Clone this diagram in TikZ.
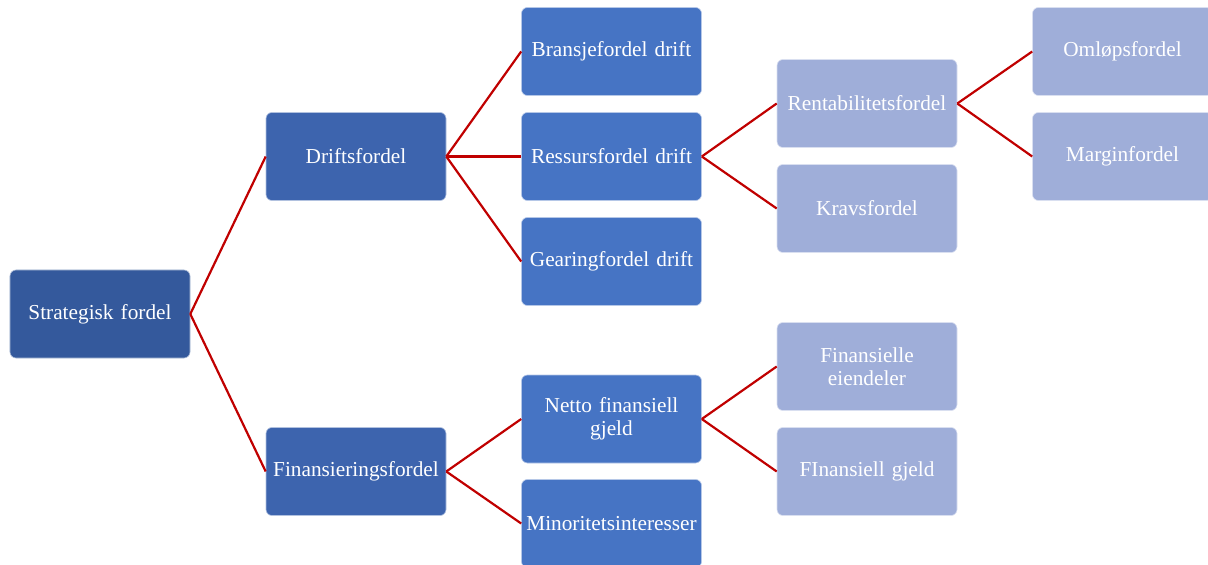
\documentclass[tikz,border=0pt]{standalone}
\usepackage{fontspec}
\setmainfont{Liberation Serif}
\definecolor{lvlA}{HTML}{34599C}
\definecolor{lvlB}{HTML}{3D64AE}
\definecolor{lvlC}{HTML}{4674C4}
\definecolor{lvlD}{HTML}{9FAED9}
\definecolor{link}{HTML}{C00000}
\begin{document}
\begin{tikzpicture}[x=1bp,y=-1bp,
  box/.style={rectangle, rounded corners=6bp, minimum width=180bp, minimum height=88bp,
    text width=176bp, inner sep=2bp, align=center, text=white,
    font=\fontsize{21.3bp}{23.5bp}\selectfont, draw=white!60!#1, line width=0.6bp, fill=#1},
  link/.style={draw=link, line width=2.2bp}]
\useasboundingbox (0,0) rectangle (1208,565);
\clip (0,0) rectangle (1208,565);
% level 0 and 1
\node[box=lvlA] (s0) at (100,314) {Strategisk fordel};
\node[box=lvlB] (d1) at (356,156.5) {Driftsfordel};
\node[box=lvlB] (f1) at (356,471.5) {Finansieringsfordel};
% level 2
\node[box=lvlC] (b2) at (611.5,51.5) {Bransjefordel drift};
\node[box=lvlC] (r2) at (611.5,156.5) {Ressursfordel drift};
\node[box=lvlC] (g2) at (611.5,261.5) {Gearingfordel drift};
\node[box=lvlC] (n2) at (611.5,419) {Netto finansiell\\gjeld};
\node[box=lvlC] (m2) at (611.5,523.5) {Minoritetsinteresser};
% level 3
\node[box=lvlD] (ra3) at (867,103.5) {Rentabilitetsfordel};
\node[box=lvlD] (k3) at (867,208.5) {Kravsfordel};
\node[box=lvlD] (fe3) at (867,366.5) {Finansielle\\eiendeler};
\node[box=lvlD] (fg3) at (867,471.5) {FInansiell gjeld};
% level 4
\node[box=lvlD] (o4) at (1122.5,51.5) {Omløpsfordel};
\node[box=lvlD] (mf4) at (1122.5,156.5) {Marginfordel};
% connectors
\draw[link] (s0.east) -- (d1.west);
\draw[link] (s0.east) -- (f1.west);
\draw[link] (d1.east) -- (b2.west);
\draw[link] (d1.east) -- (r2.west);
\draw[link] (d1.east) -- (g2.west);
\draw[link] (f1.east) -- (n2.west);
\draw[link] (f1.east) -- (m2.west);
\draw[link] (r2.east) -- (ra3.west);
\draw[link] (r2.east) -- (k3.west);
\draw[link] (n2.east) -- (fe3.west);
\draw[link] (n2.east) -- (fg3.west);
\draw[link] (ra3.east) -- (o4.west);
\draw[link] (ra3.east) -- (mf4.west);
\end{tikzpicture}
\end{document}
